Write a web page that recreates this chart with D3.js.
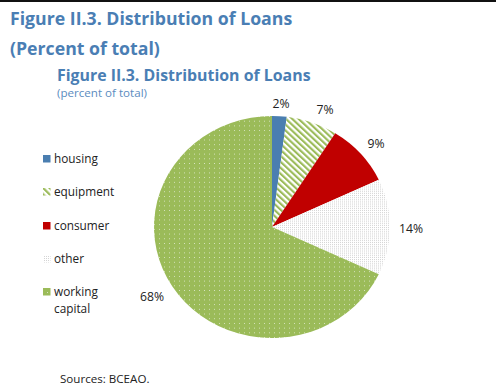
<!DOCTYPE html>
<html><head><meta charset="utf-8">
<script src="https://cdn.jsdelivr.net/npm/d3@7/dist/d3.min.js"></script>
<style>
html,body{margin:0;padding:0;background:#fff;}
svg{display:block;}
</style></head>
<body>
<svg id="c" width="496" height="385"></svg>
<script>
const categories = ["housing", "equipment", "consumer", "other", "working capital"];
const values = [2, 7, 9, 14, 68];
const labels = ["2%", "7%", "9%", "14%", "68%"];
const titleMain = ["Figure II.3. Distribution of Loans", "(Percent of total)"];
const titleInner = "Figure II.3. Distribution of Loans";
const subtitle = "(percent of total)";
const source = "Sources: BCEAO.";

const svg = d3.select("#c");
const font = "'Open Sans', 'Noto Sans', sans-serif";
const blue = "#4a7eb4";

svg.append("rect").attr("x",0).attr("y",0).attr("width",496).attr("height",2).attr("fill","#111");

const defs = svg.append("defs");
const pe = defs.append("pattern").attr("id","pEquip").attr("patternUnits","userSpaceOnUse")
  .attr("width",4.5).attr("height",4.5).attr("patternTransform","rotate(-45)");
pe.append("rect").attr("width",4.5).attr("height",4.5).attr("fill","#fff");
pe.append("rect").attr("x",0).attr("y",0).attr("width",2.2).attr("height",4.5).attr("fill","#9bbb59");
const po = defs.append("pattern").attr("id","pOther").attr("patternUnits","userSpaceOnUse")
  .attr("width",2).attr("height",2);
po.append("rect").attr("width",2).attr("height",2).attr("fill","#fff");
po.append("rect").attr("width",1).attr("height",1).attr("fill","#d4d4d4");
const pw = defs.append("pattern").attr("id","pWork").attr("patternUnits","userSpaceOnUse")
  .attr("width",5).attr("height",5);
pw.append("rect").attr("width",5).attr("height",5).attr("fill","#9bbb59");
pw.append("rect").attr("x",2).attr("y",2).attr("width",1).attr("height",1).attr("fill","#d6e3bf");

const fills = ["#4a7eb0","url(#pEquip)","#c00000","url(#pOther)","url(#pWork)"];

svg.append("text").attr("x",10).attr("y",25).attr("font-family",font).attr("font-weight","bold")
  .attr("font-size",17.7).attr("fill",blue).text(titleMain[0]);
svg.append("text").attr("x",10).attr("y",55).attr("font-family",font).attr("font-weight","bold")
  .attr("font-size",17.7).attr("fill",blue).text(titleMain[1]);
svg.append("text").attr("x",57).attr("y",81).attr("font-family",font).attr("font-weight","bold")
  .attr("font-size",15.9).attr("fill",blue).text(titleInner);
svg.append("text").attr("x",57).attr("y",97).attr("font-family",font)
  .attr("font-size",11.6).attr("fill","#5b8cc0").text(subtitle);

const cx = 272, cy = 227, rx = 118, ry = 111;
const pie = d3.pie().sort(null).value(d => d);
const arcs = pie(values);
const arc = d3.arc().innerRadius(0).outerRadius(rx);
const g = svg.append("g").attr("transform",`translate(${cx},${cy}) scale(1,${ry/rx})`);
g.selectAll("path").data(arcs).enter().append("path")
  .attr("d",arc).attr("fill",(d,i)=>fills[i]);

const labelPos = [[281,108],[325,114],[376,148],[411,233],[152,301]];
svg.selectAll("text.lbl").data(arcs).enter().append("text").attr("class","lbl")
  .attr("x",(d,i)=>labelPos[i][0]).attr("y",(d,i)=>labelPos[i][1])
  .attr("text-anchor","middle").attr("font-family",font).attr("font-size",12.2).attr("fill","#222")
  .text((d,i)=>labels[i]);

const ly = [163, 196, 230, 263, 296];
const lg = svg.append("g");
categories.forEach((c,i)=>{
  lg.append("rect").attr("x",43).attr("y",ly[i]-8).attr("width",7.5).attr("height",7.5).attr("fill",fills[i]);
  const t = lg.append("text").attr("x",54).attr("y",ly[i]).attr("font-family",font).attr("font-size",11.8).attr("fill","#222");
  if (c === "working capital") {
    t.append("tspan").attr("x",54).text("working");
    t.append("tspan").attr("x",54).attr("dy",17).text("capital");
  } else t.text(c);
});

svg.append("text").attr("x",60).attr("y",383).attr("font-family",font).attr("font-size",11.6).attr("fill","#222").text(source);
</script>
</body></html>
